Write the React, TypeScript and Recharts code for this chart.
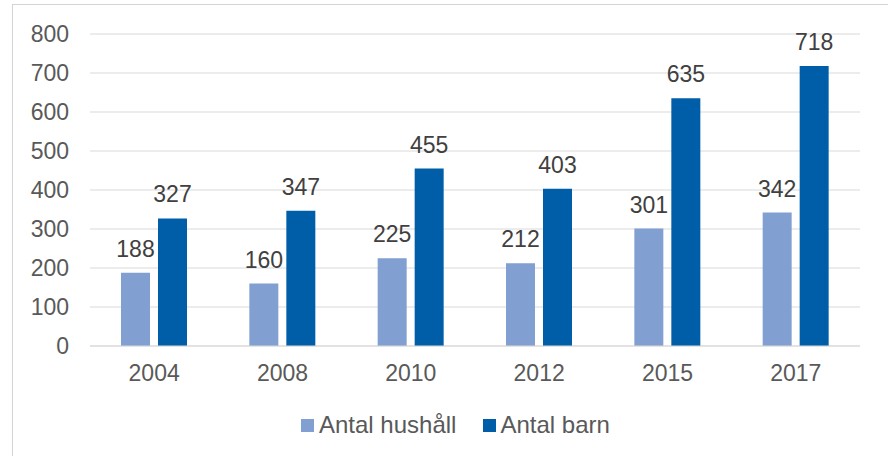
import React from "react";
import { BarChart, Bar, XAxis, YAxis, CartesianGrid, Legend, LabelList } from "recharts";

const years = ["2004", "2008", "2010", "2012", "2015", "2017"];
const hushall = [188, 160, 225, 212, 301, 342];
const barn = [327, 347, 455, 403, 635, 718];
const yTicks = [0, 100, 200, 300, 400, 500, 600, 700, 800];

const data = years.map((y, i) => ({ year: y, hushall: hushall[i], barn: barn[i] }));

const FONT = '"Liberation Sans", Arial, sans-serif';
const LIGHT = "#819fd1";
const DARK = "#005ea8";

const LegendContent = () => (
  <div
    style={{
      position: "absolute",
      left: 301,
      top: 0,
      display: "flex",
      alignItems: "center",
      fontFamily: FONT,
      fontSize: 24,
      color: "#595959",
      whiteSpace: "nowrap",
    }}
  >
    <span style={{ width: 13, height: 13, background: LIGHT, display: "inline-block", marginRight: 5 }} />
    <span style={{ marginRight: 27 }}>Antal hushåll</span>
    <span style={{ width: 13, height: 13, background: DARK, display: "inline-block", marginRight: 4 }} />
    <span>Antal barn</span>
  </div>
);

export default function App() {
  return (
    <div
      style={{
        position: "fixed",
        left: 0,
        top: 0,
        width: 888,
        height: 456,
        overflow: "hidden",
        background: "#fff",
      }}
    >
      <div
        style={{
          position: "absolute",
          left: 12,
          top: 4,
          width: 920,
          height: 520,
          border: "1px solid #d4d4d4",
        }}
      />
      <div style={{ position: "absolute", left: 0, top: 0 }}>
        <BarChart
          width={888}
          height={456}
          data={data}
          margin={{ top: 34, right: 28, left: 30, bottom: 70 }}
          barGap={8}
          barCategoryGap={31}
        >
          <CartesianGrid vertical={false} stroke="#d9d9d9" strokeWidth={1} />
          <XAxis
            dataKey="year"
            height={40}
            axisLine={{ stroke: "#d9d9d9" }}
            tickLine={false}
            tickSize={0}
            tickMargin={19}
            tick={{ fill: "#595959", fontSize: 23, fontFamily: FONT }}
          />
          <YAxis
            width={60}
            domain={[0, 800]}
            ticks={yTicks}
            axisLine={false}
            tickLine={false}
            tickSize={0}
            tickMargin={21}
            tick={{ fill: "#595959", fontSize: 23, fontFamily: FONT }}
          />
          <Legend
            layout="horizontal"
            verticalAlign="middle"
            align="center"
            wrapperStyle={{ top: 411, left: 0, width: 888, height: 30 }}
            content={() => <LegendContent />}
          />
          <Bar dataKey="hushall" name="Antal hushåll" fill={LIGHT} barSize={29} isAnimationActive={false}>
            <LabelList
              dataKey="hushall"
              position="top"
              offset={16}
              style={{ fill: "#404040", fontSize: 23, fontFamily: FONT }}
            />
          </Bar>
          <Bar dataKey="barn" name="Antal barn" fill={DARK} barSize={29} isAnimationActive={false}>
            <LabelList
              dataKey="barn"
              position="top"
              offset={16}
              style={{ fill: "#404040", fontSize: 23, fontFamily: FONT }}
            />
          </Bar>
        </BarChart>
      </div>
    </div>
  );
}
